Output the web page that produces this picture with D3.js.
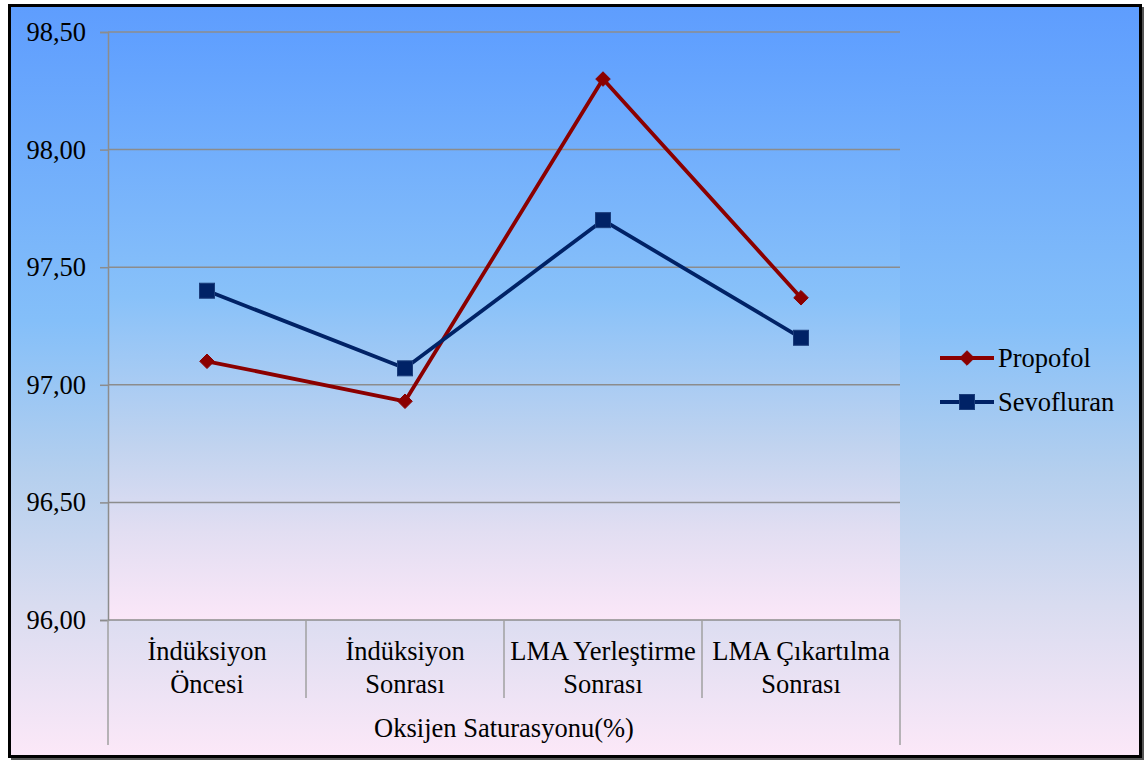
<!DOCTYPE html>
<html>
<head>
<meta charset="utf-8">
<script src="https://cdn.jsdelivr.net/npm/d3@7"></script>
<style>
  html, body { margin: 0; padding: 0; background: #ffffff; }
  svg { display: block; }
  text { font-family: "Liberation Serif", "Times New Roman", serif; fill: #000; }
</style>
</head>
<body>
<svg id="chart" width="1147" height="762" font-family="Liberation Serif"></svg>
<script>
// Oxygen saturation at four anaesthesia stages
const categories = [
  ["İndüksiyon", "Öncesi"],
  ["İndüksiyon", "Sonrası"],
  ["LMA Yerleştirme", "Sonrası"],
  ["LMA Çıkartılma", "Sonrası"]
];
const seriesNames = ["Propofol", "Sevofluran"];
const propofol = [97.10, 96.93, 98.30, 97.37];
const sevofluran = [97.40, 97.07, 97.70, 97.20];
const yTicks = [96.0, 96.5, 97.0, 97.5, 98.0, 98.5];
const axisTitle = "Oksijen Saturasyonu(%)";

const svg = d3.select("#chart");
const defs = svg.append("defs");

function gradient(id, stops) {
  const g = defs.append("linearGradient").attr("id", id)
    .attr("x1", 0).attr("y1", 0).attr("x2", 0).attr("y2", 1);
  stops.forEach(([o, c]) => g.append("stop").attr("offset", o).attr("stop-color", c));
}
gradient("bgOuter", [[0, "#5e9dfe"], [0.42, "#84bff9"], [0.62, "#b4cfee"], [0.8, "#d9dcf0"], [1, "#fce8f8"]]);
gradient("bgPlot",  [[0, "#5f9fff"], [0.45, "#88c1f9"], [0.7, "#c0d3ef"], [0.85, "#e2def2"], [1, "#fbe7f8"]]);

const plot = { left: 108, right: 900, top: 32, bottom: 620 };
const fontSize = 26.5;

// chart background and frame
svg.append("rect").attr("x", 11).attr("y", 7).attr("width", 1133).attr("height", 753)
  .attr("fill", "#555");
svg.append("rect").attr("x", 9.5).attr("y", 5.5).attr("width", 1131).attr("height", 751)
  .attr("fill", "url(#bgOuter)").attr("stroke", "#000").attr("stroke-width", 3);

// plot area background
svg.append("rect").attr("x", plot.left).attr("y", plot.top)
  .attr("width", plot.right - plot.left).attr("height", plot.bottom - plot.top)
  .attr("fill", "url(#bgPlot)");

const x = d3.scaleBand().domain(d3.range(categories.length))
  .range([plot.left, plot.right]).paddingInner(0).paddingOuter(0);
const y = d3.scaleLinear().domain([96, 98.5]).range([plot.bottom, plot.top]);
const fmt = v => d3.format(".2f")(v).replace(".", ",");

const gridColor = "#8c8c8c";

// horizontal gridlines
svg.append("g").selectAll("line").data(yTicks.filter(t => t > 96)).join("line")
  .attr("x1", plot.left).attr("x2", plot.right)
  .attr("y1", d => y(d)).attr("y2", d => y(d))
  .attr("stroke", gridColor).attr("stroke-width", 1.5);

// value axis
const yAxis = svg.append("g").attr("transform", `translate(${plot.left},0)`)
  .call(d3.axisLeft(y).tickValues(yTicks).tickFormat(fmt).tickSize(8).tickPadding(14))
  .attr("font-family", "Liberation Serif").attr("font-size", fontSize);
yAxis.select(".domain").attr("stroke", gridColor).attr("stroke-width", 1.5);
yAxis.selectAll(".tick line").attr("stroke", gridColor).attr("stroke-width", 1.5);
yAxis.selectAll(".tick text").attr("fill", "#000");

// category axis with multi-level separators
const catAxis = svg.append("g");
catAxis.append("line").attr("x1", plot.left).attr("x2", plot.right)
  .attr("y1", plot.bottom).attr("y2", plot.bottom)
  .attr("stroke", gridColor).attr("stroke-width", 1.5);
const bounds = d3.range(categories.length + 1).map(i =>
  i < categories.length ? x(i) : x(i - 1) + x.bandwidth());
catAxis.selectAll("line.sep").data(bounds).join("line").attr("class", "sep")
  .attr("x1", d => d).attr("x2", d => d)
  .attr("y1", plot.bottom)
  .attr("y2", (d, i) => (i === 0 || i === categories.length) ? 745 : 698)
  .attr("stroke", "#a0a0a0").attr("stroke-width", 1.5);

const catLabels = catAxis.selectAll("text.cat").data(categories).join("text")
  .attr("class", "cat").attr("text-anchor", "middle").attr("font-size", fontSize)
  .attr("x", (d, i) => x(i) + x.bandwidth() / 2).attr("y", 660);
catLabels.selectAll("tspan").data(d => d).join("tspan")
  .attr("x", function () { return d3.select(this.parentNode).attr("x"); })
  .attr("dy", (d, i) => i === 0 ? 0 : 33)
  .text(d => d);

svg.append("text").attr("x", (plot.left + plot.right) / 2).attr("y", 737)
  .attr("text-anchor", "middle").attr("font-size", fontSize).text(axisTitle);

// series
const colors = ["#8b0000", "#002266"];
const data = [propofol, sevofluran];
const cx = i => x(i) + x.bandwidth() / 2;
const line = d3.line().x((d, i) => cx(i)).y(d => y(d));

data.forEach((vals, s) => {
  svg.append("path").datum(vals).attr("d", line)
    .attr("fill", "none").attr("stroke", colors[s]).attr("stroke-width", 3.8)
    .attr("stroke-linejoin", "round");
});

function marker(g, s, px, py) {
  if (s === 0) {
    g.append("path")
      .attr("d", d3.symbol().type(d3.symbolDiamond2).size(135)())
      .attr("transform", `translate(${px},${py})`)
      .attr("fill", colors[s]).attr("stroke", colors[s]).attr("stroke-width", 1);
  } else {
    g.append("rect").attr("x", px - 7.5).attr("y", py - 7.5)
      .attr("width", 15).attr("height", 15)
      .attr("fill", colors[s]).attr("stroke", "#1a3c7a").attr("stroke-width", 1);
  }
}

data.forEach((vals, s) => {
  const g = svg.append("g");
  vals.forEach((v, i) => marker(g, s, cx(i), y(v)));
});

// legend
const legend = svg.append("g");
seriesNames.forEach((name, s) => {
  const ly = 358 + s * 44;
  legend.append("line").attr("x1", 940).attr("x2", 994).attr("y1", ly).attr("y2", ly)
    .attr("stroke", colors[s]).attr("stroke-width", 3.8);
  marker(legend, s, 967, ly);
  legend.append("text").attr("x", 998).attr("y", ly).attr("dy", "0.35em")
    .attr("font-size", fontSize).text(name);
});
</script>
</body>
</html>
